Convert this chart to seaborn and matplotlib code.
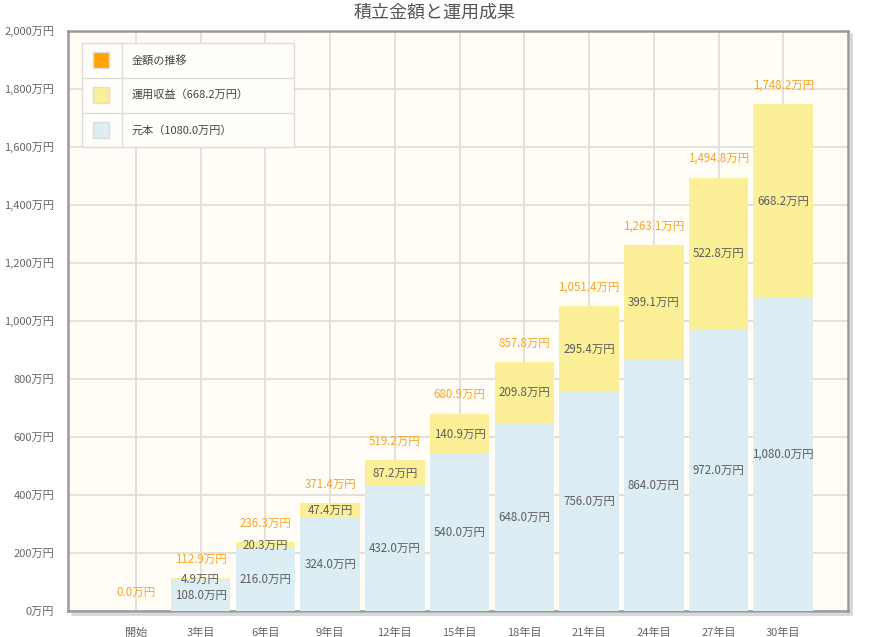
import matplotlib
matplotlib.use("Agg")
import matplotlib.pyplot as plt
import matplotlib.patches as mpatches
import numpy as np
import pandas as pd
import seaborn as sns

# data
years = ['開始', '3年目', '6年目', '9年目', '12年目', '15年目',
         '18年目', '21年目', '24年目', '27年目', '30年目']
principal = [0, 108.0, 216.0, 324.0, 432.0, 540.0, 648.0, 756.0, 864.0, 972.0, 1080.0]
profit = [0, 4.9, 20.3, 47.4, 87.2, 140.9, 209.8, 295.4, 399.1, 522.8, 668.2]
total = [0, 112.9, 236.3, 371.4, 519.2, 680.9, 857.8, 1051.4, 1263.1, 1494.8, 1748.2]
y_ticks = [0, 200, 400, 600, 800, 1000, 1200, 1400, 1600, 1800, 2000]

title = '積立金額と運用成果'
legend_labels = ['金額の推移', '運用収益（668.2万円）', '元本（1080.0万円）']

BLUE = '#ddedf4'
YELLOW = '#fbef98'
ORANGE = '#f7a528'
GRID = '#dedcd8'
TEXT = '#666666'

sns.set_style('white')
plt.rcParams['font.family'] = ['Noto Sans CJK JP', 'DejaVu Sans']

df = pd.DataFrame({'year': years, 'principal': principal,
                   'profit': profit, 'total': total})

W, H = 870, 637
fig = plt.figure(figsize=(W / 100, H / 100), dpi=100)
L, R, T, B = 68, 848, 31, 611
ax = fig.add_axes([L / W, 1 - B / H, (R - L) / W, (B - T) / H])
ax.set_facecolor('#fffdf6')

# stacked bars: total (yellow) underneath, principal (blue) on top
sns.barplot(data=df, x='year', y='total', color=YELLOW, width=0.92,
            saturation=1, linewidth=0, ax=ax, zorder=2)
sns.barplot(data=df, x='year', y='principal', color=BLUE, width=0.92,
            saturation=1, linewidth=0, ax=ax, zorder=3)

ax.set_xlim(-1.05, 11.0)
ax.set_ylim(0, 2000)
ax.set_yticks(y_ticks)
ax.set_yticklabels([f'{v:,}万円' for v in y_ticks])
ax.set_xlabel('')
ax.set_ylabel('')

ax.set_axisbelow(True)
ax.grid(True, color=GRID, linewidth=1.2, zorder=0)
ax.tick_params(axis='both', colors='#aaaaaa', labelcolor=TEXT, labelsize=8,
               length=4, width=1, direction='out', pad=6)
ax.tick_params(axis='x', pad=8)
for s in ax.spines.values():
    s.set_visible(True)
    s.set_color('#9a9a9a')
    s.set_linewidth(1.8)

# soft shadow along right and bottom of the frame
ax.plot([1.004, 1.004], [-0.006, 0.995], transform=ax.transAxes, color='#d6d6d6',
        lw=2, clip_on=False, zorder=1)
ax.plot([0.005, 1.004], [-0.006, -0.006], transform=ax.transAxes, color='#d6d6d6',
        lw=2, clip_on=False, zorder=1)

# segment labels
for i in range(len(years)):
    if principal[i] > 0:
        ax.text(i, principal[i] / 2, f'{principal[i]:,.1f}万円', ha='center',
                va='center', fontsize=8.3, color='#5e5e5e', zorder=5)
    if profit[i] > 0:
        ax.text(i, principal[i] + profit[i] / 2, f'{profit[i]:,.1f}万円',
                ha='center', va='center', fontsize=8.3, color='#5e5e5e', zorder=5)
    ax.annotate(f'{total[i]:,.1f}万円', (i, total[i]), xytext=(0, 19),
                textcoords='offset pixels', ha='center', va='center',
                fontsize=8.3, color=ORANGE, zorder=5)

fig.text(0.5, 1 - 13 / H, title, ha='center', va='center',
         fontsize=13, color='#555555')


# legend drawn as a small table in pixel positions
def px(x, y):
    return (x - L) / (R - L), 1 - (y - T) / (B - T)


x0, y0 = px(82, 147)
x1, y1 = px(294, 43)
ax.add_patch(mpatches.Rectangle((x0, y0), x1 - x0, y1 - y0, transform=ax.transAxes,
                                facecolor='#fffefa', edgecolor='#dddddd',
                                linewidth=1, zorder=6))
xc, _ = px(122, 0)
ax.plot([xc, xc], [y0, y1], transform=ax.transAxes, color='#dddddd', lw=1, zorder=7)
for yy in [78, 113]:
    _, yr = px(0, yy)
    ax.plot([x0, x1], [yr, yr], transform=ax.transAxes, color='#dddddd', lw=1, zorder=7)

sw_w = 16 / (R - L)
sw_h = 16 / (B - T)
for lab, col, yy in zip(legend_labels, ['#ffa500', YELLOW, BLUE], [60, 95, 130]):
    sx, sy = px(101, yy)
    ax.add_patch(mpatches.Rectangle((sx - sw_w / 2, sy - sw_h / 2), sw_w, sw_h,
                                    transform=ax.transAxes, facecolor=col,
                                    edgecolor='#dddddd', linewidth=1, zorder=8))
    tx, ty = px(132, yy)
    ax.text(tx, ty, lab, transform=ax.transAxes, ha='left', va='center',
            fontsize=8, color='#444444', zorder=8)

fig.savefig('out.png', dpi=100, facecolor='white')
